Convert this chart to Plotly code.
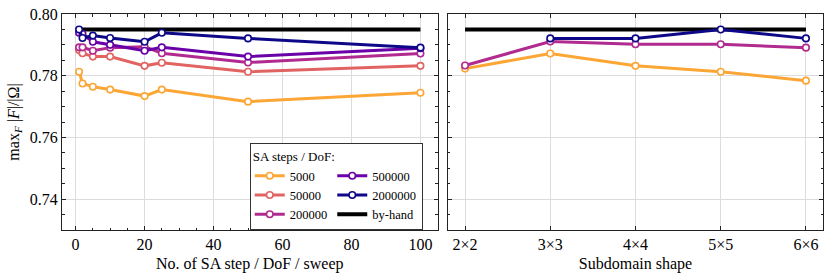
import plotly.graph_objects as go

# ---------------- data ----------------
steps_per_sweep = [1, 2, 5, 10, 20, 25, 50, 100]
left_5000 = [0.7813, 0.7775, 0.7764, 0.7755, 0.7734, 0.7755, 0.7716, 0.7745]
left_50000 = [0.7883, 0.7873, 0.7862, 0.7862, 0.7832, 0.7842, 0.7813, 0.7832]
left_200000 = [0.7892, 0.7892, 0.7881, 0.7891, 0.7894, 0.7873, 0.7843, 0.7872]
left_500000 = [0.7939, 0.7935, 0.7910, 0.7900, 0.7881, 0.7892, 0.7862, 0.7889]
left_2000000 = [0.7950, 0.7922, 0.7930, 0.7922, 0.7910, 0.7939, 0.7921, 0.7891]
by_hand_value = 0.795

shapes = ["2×2", "3×3", "4×4", "5×5", "6×6"]
right_5000 = [0.7823, 0.7872, 0.7832, 0.7813, 0.7784]
right_200000 = [0.7833, 0.7911, 0.7902, 0.7902, 0.7891]
shapes_2000000 = ["3×3", "4×4", "5×5", "6×6"]
right_2000000 = [0.7921, 0.7921, 0.7950, 0.7921]

series_names = ["5000", "50000", "200000", "500000", "2000000"]
colors = ["#fca636", "#e16462", "#b12a90", "#6a00a8", "#0d0887"]
groups = ["a", "a", "a", "b", "b"]

FONT = "Liberation Serif, Times New Roman, serif"


def series_trace(name, col, grp, xs, vals, rank, show, xa, ya):
    return go.Scatter(
        x=xs, y=vals, mode="lines+markers", name=name,
        legendgroup=grp, showlegend=show, legendrank=rank,
        line=dict(color=col, width=3),
        marker=dict(symbol="circle", size=6.5, color="white",
                    line=dict(color=col, width=1.6)),
        xaxis=xa, yaxis=ya)


fig = go.Figure()

left_vals = [left_5000, left_50000, left_200000, left_500000, left_2000000]
# group "a" series first
for i in range(3):
    fig.add_trace(series_trace(series_names[i], colors[i], groups[i],
                               steps_per_sweep, left_vals[i], i + 1, True, "x", "y"))
# by-hand reference (beneath the two top series)
fig.add_trace(go.Scatter(
    x=[steps_per_sweep[0], steps_per_sweep[-1]], y=[by_hand_value, by_hand_value],
    mode="lines", name="by-hand", legendgroup="b", showlegend=True, legendrank=6,
    line=dict(color="black", width=4), xaxis="x", yaxis="y"))
for i in range(3, 5):
    fig.add_trace(series_trace(series_names[i], colors[i], groups[i],
                               steps_per_sweep, left_vals[i], i + 1, True, "x", "y"))

# right panel
fig.add_trace(go.Scatter(
    x=[shapes[0], shapes[-1]], y=[by_hand_value, by_hand_value],
    mode="lines", name="by-hand", legendgroup="b", showlegend=False, legendrank=6,
    line=dict(color="black", width=4), xaxis="x2", yaxis="y2"))
fig.add_trace(series_trace("5000", colors[0], "a", shapes, right_5000, 1, False, "x2", "y2"))
fig.add_trace(series_trace("200000", colors[2], "a", shapes, right_200000, 3, False, "x2", "y2"))
fig.add_trace(series_trace("2000000", colors[4], "b", shapes_2000000, right_2000000, 5, False, "x2", "y2"))

axis_common = dict(
    showline=True, linecolor="#222", linewidth=1, mirror="ticks",
    ticks="inside", ticklen=4, tickwidth=1, tickcolor="#222",
    showgrid=True, gridcolor="#dcdcdc", gridwidth=1, zeroline=False,
    tickfont=dict(family=FONT, size=16, color="black"),
)
minor_common = dict(ticks="inside", ticklen=2.5, tickcolor="#222", showgrid=False)

W, H = 830, 278
ml, mr, mt, mb = 62, 6, 11, 48
pw = W - ml - mr
ph = H - mt - mb
left_end = (438 - ml) / pw
right_start = (448.5 - ml) / pw

fig.update_layout(
    width=W, height=H,
    margin=dict(l=ml, r=mr, t=mt, b=mb),
    paper_bgcolor="white", plot_bgcolor="white",
    font=dict(family=FONT, size=16, color="black"),
    xaxis=dict(domain=[0, left_end], range=[-3.95, 104.95],
               tick0=0, dtick=20, minor=dict(dtick=5, **minor_common),
               title=dict(text="No. of SA step / DoF / sweep", font=dict(family=FONT, size=16), standoff=5),
               **axis_common),
    yaxis=dict(range=[0.73, 0.80], tick0=0.74, dtick=0.02, tickformat=".2f",
               minor=dict(dtick=0.005, **minor_common),
               title=dict(text="max<sub><i>F</i></sub> |<i>F</i>|/|Ω|", font=dict(family=FONT, size=16), standoff=6),
               **axis_common),
    xaxis2=dict(domain=[right_start, 1], type="category",
                categoryorder="array", categoryarray=shapes,
                range=[-0.2, 4.2], anchor="y2",
                title=dict(text="Subdomain shape", font=dict(family=FONT, size=16), standoff=5),
                **axis_common),
    yaxis2=dict(range=[0.73, 0.80], tick0=0.74, dtick=0.02, anchor="x2",
                matches="y", showticklabels=False,
                minor=dict(dtick=0.005, **minor_common),
                **axis_common),
    legend=dict(
        orientation="h", traceorder="grouped",
        x=(250 - ml) / pw, y=(230 - 142) / ph,
        xanchor="left", yanchor="top",
        bgcolor="white", bordercolor="#333", borderwidth=1,
        font=dict(family=FONT, size=12.5, color="black"),
        title=dict(text="SA steps / DoF:", side="top", font=dict(family=FONT, size=13)),
        tracegroupgap=59, itemwidth=30,
    ),
)

fig.write_html("out.html", config={"displayModeBar": False},
               post_script="document.body.style.margin='0px';")
